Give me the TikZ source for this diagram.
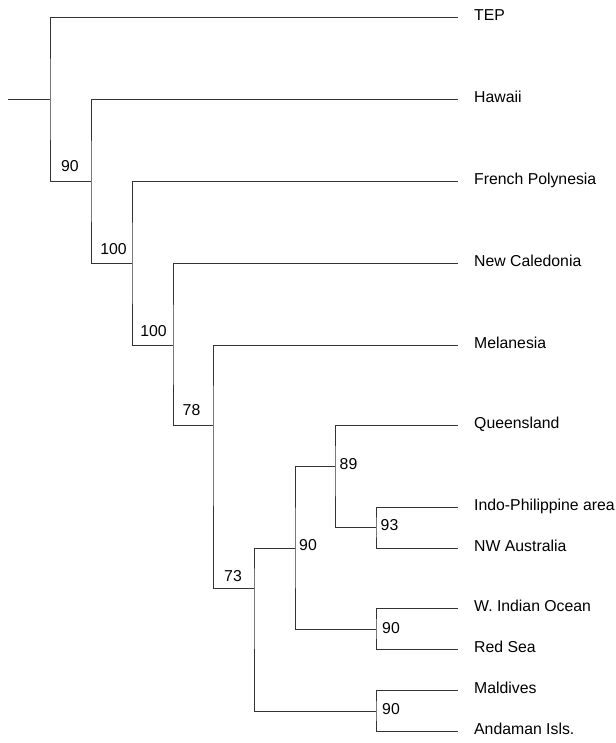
\documentclass[tikz,border=0pt]{standalone}
\usepackage{fontspec}
\setmainfont{Liberation Sans}
\usepackage{tikz}
\usetikzlibrary{positioning}
\tikzstyle{leaf}=[anchor=west, inner xsep=16pt, inner ysep=0pt, text height=0.72em, text depth=0pt, font=\fontsize{15.8}{18}\selectfont]
\tikzstyle{supp}=[inner sep=0pt, text height=0.72em, text depth=0pt, font=\fontsize{15.8}{18}\selectfont]
\tikzstyle{br}=[draw=black!80, line width=0.8pt]

\begin{document}
\begin{tikzpicture}[x=1pt, y=-1pt]
\useasboundingbox (0,0) rectangle (615,743);
% internal nodes
\coordinate (rt) at (8,99);
\coordinate (nn1) at (50,99);
\coordinate (nn2) at (91,181);
\coordinate (nn3) at (132,263);
\coordinate (nn4) at (173,345);
\coordinate (nn5) at (213,425);
\coordinate (nn6) at (254,588);
\coordinate (nn7) at (295,548);
\coordinate (nn8) at (335,466);
\coordinate (nn9) at (376,527);
\coordinate (nn10) at (376,629);
\coordinate (nn11) at (376,711);
% leaves
\node[leaf] (tep) at (458,17) {TEP};
\node[leaf] (haw) at (458,99) {Hawaii};
\node[leaf] (fpol) at (458,181) {French Polynesia};
\node[leaf] (ncal) at (458,263) {New Caledonia};
\node[leaf] (mel) at (458,345) {Melanesia};
\node[leaf] (qld) at (458,425) {Queensland};
\node[leaf] (ipa) at (458,507) {Indo-Philippine area};
\node[leaf] (nwa) at (458,548) {NW Australia};
\node[leaf] (wio) at (458,608) {W. Indian Ocean};
\node[leaf] (rsea) at (458,649) {Red Sea};
\node[leaf] (mald) at (458,690) {Maldives};
\node[leaf] (anda) at (458,731) {Andaman Isls.};
% support values
\node[supp] (s2) at (70,168) {90};
\node[supp] (s3) at (113.5,251) {100};
\node[supp] (s4) at (153.5,333) {100};
\node[supp] (s5) at (191.5,412) {78};
\node[supp] (s6) at (233,578) {73};
\node[supp] (s7) at (308,547) {90};
\node[supp] (s8) at (348.5,466) {89};
\node[supp] (s9) at (389.5,527) {93};
\node[supp] (s10) at (391,629.5) {90};
\node[supp] (s11) at (391,710.5) {90};
%
\draw[br] (rt) -- (nn1);
\draw[br] (tep.west) -| (nn1) |- (nn2);
\draw[br] (haw.west) -| (nn2) |- (nn3);
\draw[br] (fpol.west) -| (nn3) |- (nn4);
\draw[br] (ncal.west) -| (nn4) |- (nn5);
\draw[br] (mel.west) -| (nn5) |- (nn6);
\draw[br] (nn7) -| (nn6) |- (nn11);
\draw[br] (nn8) -| (nn7) |- (nn10);
\draw[br] (qld.west) -| (nn8) |- (nn9);
\draw[br] (ipa.west) -| (nn9) |- (nwa.west);
\draw[br] (wio.west) -| (nn10) |- (rsea.west);
\draw[br] (mald.west) -| (nn11) |- (anda.west);
\end{tikzpicture}
\end{document}
